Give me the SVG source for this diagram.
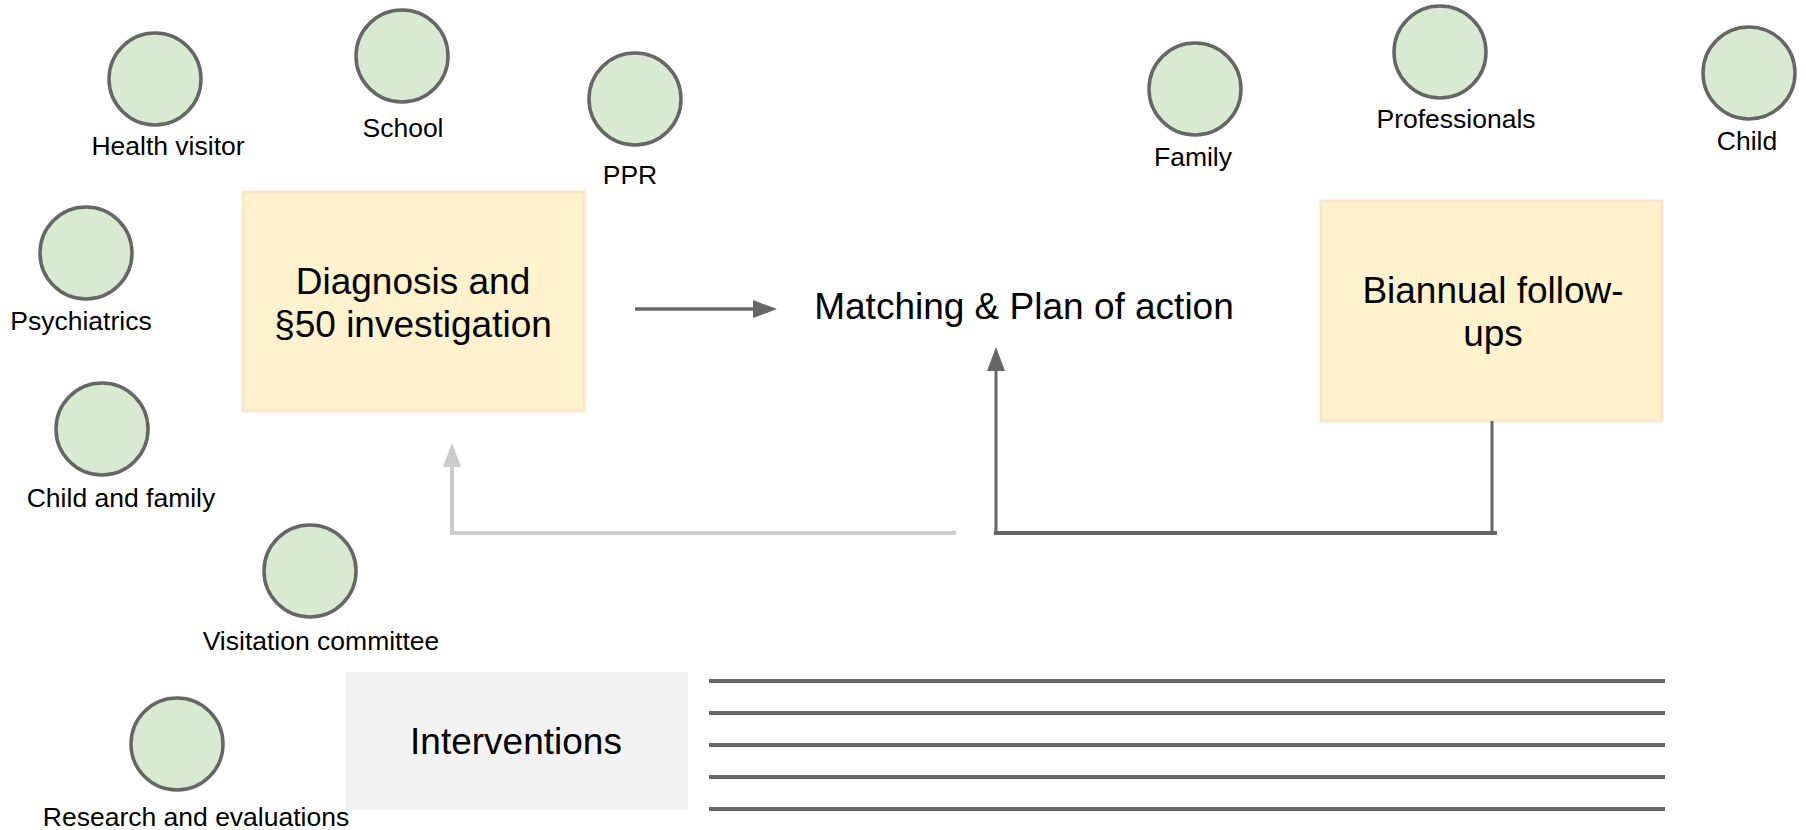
<svg xmlns="http://www.w3.org/2000/svg" width="1806" height="830" viewBox="0 0 1806 830">
  <style>
    .actor circle { fill: #d9ead3; stroke: #666666; stroke-width: 3.5; }
    .lbl { font-family: "Liberation Sans", Arial, sans-serif; font-size: 26.5px; fill: #000; text-anchor: middle; }
    .big { font-family: "Liberation Sans", Arial, sans-serif; font-size: 37px; fill: #000; text-anchor: middle; }
    .step { fill: #fff2cc; stroke: #fce5cd; stroke-width: 3; }
    .dark { stroke: #666666; fill: none; }
    .light { stroke: #cccccc; fill: none; }
  </style>
  <defs>
    <marker id="headDark" viewBox="0 0 24 18" refX="0" refY="9" markerWidth="24" markerHeight="18" markerUnits="userSpaceOnUse" orient="auto">
      <path d="M0,0 L24,9 L0,18 Z" fill="#666666"/>
    </marker>
    <marker id="headLight" viewBox="0 0 24 18" refX="0" refY="9" markerWidth="24" markerHeight="18" markerUnits="userSpaceOnUse" orient="auto">
      <path d="M0,0 L24,9 L0,18 Z" fill="#cccccc"/>
    </marker>
  </defs>
  <rect width="1806" height="830" fill="#ffffff"/>

  <!-- stakeholders -->
  <g id="health-visitor" class="actor">
    <circle cx="155" cy="79" r="46"/>
    <text class="lbl" x="168" y="155">Health visitor</text>
  </g>
  <g id="school" class="actor">
    <circle cx="402" cy="56" r="46"/>
    <text class="lbl" x="403" y="137">School</text>
  </g>
  <g id="ppr" class="actor">
    <circle cx="635" cy="99" r="46"/>
    <text class="lbl" x="630" y="184">PPR</text>
  </g>
  <g id="psychiatrics" class="actor">
    <circle cx="86" cy="253" r="46"/>
    <text class="lbl" x="81" y="330">Psychiatrics</text>
  </g>
  <g id="child-and-family" class="actor">
    <circle cx="102" cy="429" r="46"/>
    <text class="lbl" x="121" y="507">Child and family</text>
  </g>
  <g id="visitation-committee" class="actor">
    <circle cx="310" cy="571" r="46"/>
    <text class="lbl" x="321" y="650">Visitation committee</text>
  </g>
  <g id="research" class="actor">
    <circle cx="177" cy="744" r="46"/>
    <text class="lbl" x="196" y="826">Research and evaluations</text>
  </g>
  <g id="family" class="actor">
    <circle cx="1195" cy="89" r="46"/>
    <text class="lbl" x="1193" y="166">Family</text>
  </g>
  <g id="professionals" class="actor">
    <circle cx="1440" cy="52" r="46"/>
    <text class="lbl" x="1456" y="128">Professionals</text>
  </g>
  <g id="child" class="actor">
    <circle cx="1749" cy="73" r="46"/>
    <text class="lbl" x="1747" y="150">Child</text>
  </g>

  <!-- process steps -->
  <g id="diagnosis">
    <rect class="step" x="243" y="192" width="341" height="219"/>
    <text class="big" x="413" y="294">Diagnosis and</text>
    <text class="big" x="413" y="337">§50 investigation</text>
  </g>
  <g id="matching">
    <text class="big" x="1024" y="319">Matching &amp; Plan of action</text>
  </g>
  <g id="biannual">
    <rect class="step" x="1321" y="201" width="341" height="220"/>
    <text class="big" x="1493" y="303">Biannual follow-</text>
    <text class="big" x="1493" y="346">ups</text>
  </g>
  <g id="interventions">
    <rect x="345" y="672" width="343" height="138" fill="#f3f3f3"/>
    <text class="big" x="516" y="754">Interventions</text>
    <g class="dark" stroke-width="4">
      <line x1="709" y1="681" x2="1665" y2="681"/>
      <line x1="709" y1="713" x2="1665" y2="713"/>
      <line x1="709" y1="745" x2="1665" y2="745"/>
      <line x1="709" y1="777" x2="1665" y2="777"/>
      <line x1="709" y1="809" x2="1665" y2="809"/>
    </g>
  </g>

  <!-- connectors -->
  <g id="connectors">
    <line class="dark" x1="635" y1="309" x2="753" y2="309" stroke-width="3.5" marker-end="url(#headDark)"/>
    <line class="dark" x1="1492" y1="421" x2="1492" y2="533" stroke-width="3"/>
    <line class="dark" x1="994" y1="533" x2="1497" y2="533" stroke-width="4"/>
    <path class="dark" d="M996,533 V371" stroke-width="3" marker-end="url(#headDark)"/>
    <path class="light" d="M956,533 H452 V467" stroke-width="4" marker-end="url(#headLight)"/>
  </g>
</svg>
